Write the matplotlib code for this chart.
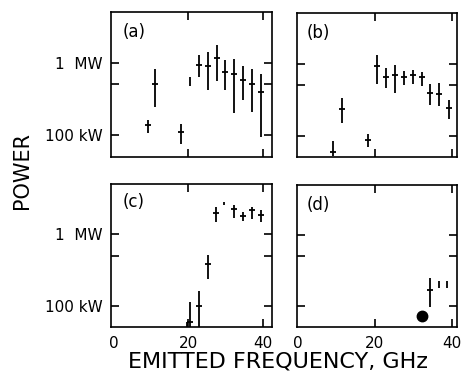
import numpy as np
import matplotlib
matplotlib.use("Agg")
import matplotlib.pyplot as plt

# power in kW, frequency in GHz
# (a)
freq_a = [9.15, 11.1, 18.1, 22.9, 25.2, 27.6, 30.0, 32.3, 34.7, 37.2, 39.6]
pow_a = [139, 511, 109, 938, 897, 1173, 740, 703, 586, 511, 391]
lo_a = [107, 247, 76, 645, 422, 568, 422, 200, 306, 206, 95]
hi_a = [163, 825, 142, 1263, 1403, 1739, 1076, 1137, 897, 825, 688]
bar_f_a = [20.35]
bar_lo_a = [484]
bar_hi_a = [631]

# (b)
freq_b = [9.25, 11.4, 18.2, 20.5, 22.9, 25.3, 27.6, 29.9, 32.3, 34.4, 36.8, 39.2]
pow_b = [60, 237, 87, 918, 647, 690, 647, 690, 647, 393, 381, 239]
lo_b = [52, 152, 70, 523, 452, 393, 502, 513, 486, 266, 258, 169]
hi_b = [85, 336, 107, 1331, 869, 969, 783, 826, 766, 523, 540, 309]
bar_f_b = []
bar_lo_b = []
bar_hi_b = []

# (c)
freq_c = [20.5, 23.0, 25.2, 27.4, 32.2, 34.6, 37.0, 39.5]
pow_c = [59, 100, 379, 1939, 2223, 1796, 2154, 1836]
lo_c = [50, 50, 235, 1482, 1652, 1514, 1616, 1454]
hi_c = [111, 158, 511, 2394, 2585, 2041, 2394, 2154]
bar_f_c = [19.8, 29.7]
bar_lo_c = [50, 2528]
bar_hi_c = [59, 2810]

# (d)
freq_d = [34.4]
pow_d = [166]
lo_d = [95]
hi_d = [246]
bar_f_d = [36.8, 38.7]
bar_lo_d = [177, 177]
bar_hi_d = [225, 225]
dot_f_d = [32.2]
dot_p_d = [71]

panel_names = ['(a)', '(b)', '(c)', '(d)']
ytick_vals = [100, 500, 1000]
ytick_text = ['100 kW', '', '1  MW']
xtick_vals = [0, 20, 40]

W, H = 461, 380
fig = plt.figure(figsize=(W / 100, H / 100), dpi=100)

# axes boxes in pixels: left, right, top, bottom
boxes = [(110.7, 271.7, 12.3, 156.7),
         (296.7, 457.0, 13.3, 157.3),
         (110.7, 271.7, 184.0, 327.3),
         (296.7, 457.0, 185.0, 327.3)]
xlims = [(-0.8, 42.4), (-0.26, 41.4), (-0.8, 42.4), (-0.26, 41.4)]
label_pos = [(0.076, 0.864), (0.064, 0.864), (0.076, 0.871), (0.064, 0.859)]

data = [(freq_a, pow_a, lo_a, hi_a, bar_f_a, bar_lo_a, bar_hi_a),
        (freq_b, pow_b, lo_b, hi_b, bar_f_b, bar_lo_b, bar_hi_b),
        (freq_c, pow_c, lo_c, hi_c, bar_f_c, bar_lo_c, bar_hi_c),
        (freq_d, pow_d, lo_d, hi_d, bar_f_d, bar_lo_d, bar_hi_d)]

for i, (l, r, t, b) in enumerate(boxes):
    ax = fig.add_axes([l / W, 1 - b / H, (r - l) / W, (b - t) / H])
    f, p, lo, hi, bf, blo, bhi = data[i]
    p = np.array(p)
    yerr = [p - np.array(lo), np.array(hi) - p]
    ax.errorbar(f, p, yerr=yerr, fmt='_', color='black', ms=5, mew=1.3,
                elinewidth=1.3, capsize=0)
    if bf:
        ax.vlines(bf, blo, bhi, color='black', lw=1.3)
    if i == 3:
        ax.plot(dot_f_d, dot_p_d, 'o', color='black', ms=7.5)

    ax.set_yscale('log')
    ax.set_ylim(50, 5000)
    ax.set_xlim(*xlims[i])
    ax.yaxis.set_minor_locator(matplotlib.ticker.NullLocator())
    ax.set_yticks(ytick_vals)
    ax.set_xticks(xtick_vals)
    if i % 2 == 0:
        ax.set_yticklabels(ytick_text)
    else:
        ax.set_yticklabels([])
    if i >= 2:
        ax.set_xticklabels([str(v) for v in xtick_vals])
    else:
        ax.set_xticklabels([])
    ax.tick_params(direction='in', length=6, width=1.2, top=True, right=True,
                   labelsize=11)
    ax.tick_params(axis='x', pad=6.5)
    ax.tick_params(axis='y', pad=6)
    # no visible tick mark at 0, it sits on the frame
    t0 = ax.xaxis.get_major_ticks()[0]
    t0.tick1line.set_visible(False)
    t0.tick2line.set_visible(False)
    for s in ax.spines.values():
        s.set_linewidth(1.2)
    ax.text(label_pos[i][0], label_pos[i][1], panel_names[i], transform=ax.transAxes,
            fontsize=12, va='center', ha='left')

fig.text(278 / W, 1 - 367.5 / H, 'EMITTED FREQUENCY, GHz', fontsize=16,
         ha='center', va='baseline')
fig.text(22 / W, 1 - 171 / H, 'POWER', fontsize=15, rotation=90,
         ha='center', va='center')

fig.savefig('out.png', dpi=100)
